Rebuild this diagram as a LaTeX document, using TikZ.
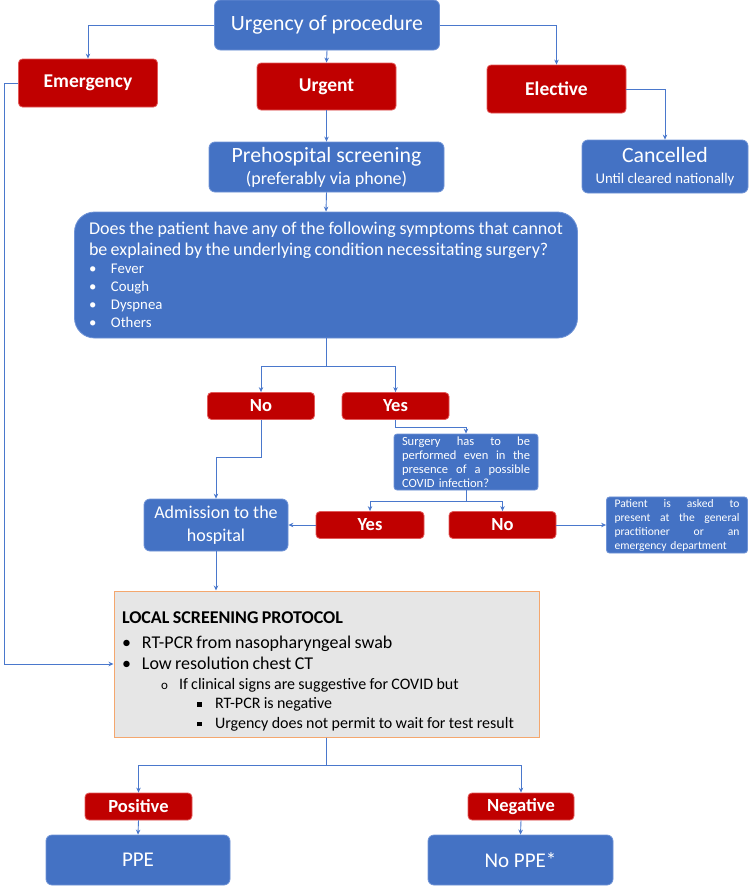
\documentclass[tikz,border=0pt]{standalone}
\usepackage{fontspec}
\setmainfont{Carlito}
\usetikzlibrary{arrows.meta}

\definecolor{boxblue}{HTML}{4472C4}
\definecolor{boxedge}{HTML}{6F93D6}
\definecolor{boxred}{HTML}{C00000}
\definecolor{rededge}{HTML}{E25A5A}
\definecolor{lineblue}{HTML}{4A78CC}
\definecolor{protofill}{HTML}{E6E6E6}
\definecolor{protoedge}{HTML}{F4A76E}

\newcommand{\fsz}[2]{\fontsize{#1}{#2}\selectfont}
\newcommand{\jline}[2]{\makebox[#1][s]{\spaceskip=0pt\relax #2}}
\newcommand{\sqbullet}{\makebox[18pt][l]{\rule[2pt]{4.5pt}{4.5pt}}}

\begin{document}
\begin{tikzpicture}[
    x=1pt, y=-1pt,
    bluebox/.style={draw=boxedge, fill=boxblue, text=white, rounded corners=6pt, line width=0.8pt, align=center, inner sep=2pt},
    redbox/.style={draw=rededge, fill=boxred, text=white, rounded corners=4pt, line width=0.8pt, font=\bfseries\fsz{19.5}{22}},
    protobox/.style={draw=protoedge, fill=protofill, line width=1pt, align=left, text=black},
    link/.style={draw=lineblue, line width=0.9pt, -{Stealth[length=5pt, width=4.5pt]}},
    line/.style={draw=lineblue, line width=0.9pt}
  ]

    \useasboundingbox (0, 0) rectangle (750, 886);

    % Urgency and its three classes
    \node[bluebox, minimum width=225pt, minimum height=50pt, font=\fsz{21.8}{26}] (urgency) at (327, 25) {Urgency of procedure};
    \node[redbox, minimum width=139pt, minimum height=48pt] (emergency) at (88, 83) {Emergency};
    \node[redbox, minimum width=139pt, minimum height=47pt] (urgent) at (326.5, 86.5) {Urgent};
    \node[redbox, minimum width=139pt, minimum height=48pt] (elective) at (556.5, 89) {Elective};

    % Second row
    \node[bluebox, minimum width=235pt, minimum height=50pt, font=\fsz{21.8}{25}] (prehosp) at (326.5, 167) {Prehospital screening\\[-3pt]{\fsz{18}{20}(preferably via phone)}};
    \node[bluebox, minimum width=166pt, minimum height=53pt, font=\fsz{21.8}{25}] (cancelled) at (665, 166.5) {Cancelled\\[-4pt]{\fsz{14.8}{17}Until cleared nationally}};

    % Symptom question
    \node[bluebox, rounded corners=20pt, align=left, text width=474pt, inner xsep=14.5pt, minimum height=126pt] (question) at (326, 275) {%
      {\fsz{18}{21}\jline{474pt}{Does the patient have any of the following symptoms that cannot}\\
      be explained by the underlying condition necessitating surgery?\par}
      {\fsz{14.8}{18}\makebox[22pt][l]{\textbullet}Fever\\
      \makebox[22pt][l]{\textbullet}Cough\\
      \makebox[22pt][l]{\textbullet}Dyspnea\\
      \makebox[22pt][l]{\textbullet}Others\par}};

    % Answers
    \node[redbox, minimum width=107pt, minimum height=27pt, font=\bfseries\fsz{18.5}{21}] (no1) at (261, 406) {No};
    \node[redbox, minimum width=107pt, minimum height=27pt, font=\bfseries\fsz{18.5}{21}] (yes1) at (395.5, 406) {Yes};

    \node[bluebox, rounded corners=3pt, align=left, text width=128pt, inner xsep=8pt, minimum height=56pt, font=\fsz{12.5}{14}] (surgery) at (466, 462) {%
      \jline{128pt}{Surgery has to be}\\
      \jline{128pt}{performed even in the}\\
      \jline{128pt}{presence of a possible}\\
      COVID infection?};

    \node[bluebox, minimum width=144pt, minimum height=52pt, font=\fsz{18}{23}] (admission) at (216, 525) {Admission to the\\hospital};
    \node[redbox, minimum width=108pt, minimum height=27pt, font=\bfseries\fsz{18.5}{21}] (yes2) at (370, 525) {Yes};
    \node[redbox, minimum width=107pt, minimum height=27pt, font=\bfseries\fsz{18.5}{21}] (no2) at (502.5, 525) {No};

    \node[bluebox, rounded corners=3pt, align=left, text width=125pt, inner xsep=8pt, minimum height=56pt, font=\fsz{11.6}{14}] (patient) at (677, 525) {%
      \jline{125pt}{Patient is asked to}\\
      \jline{125pt}{present at the general}\\
      \jline{125pt}{practitioner or an}\\
      emergency department};

    % Local screening protocol
    \node[protobox, text width=409pt, inner xsep=8pt, minimum height=146pt] (local) at (326.5, 664) {%
      {\bfseries\fsz{18}{20}\rule{0pt}{27pt}LOCAL SCREENING PROTOCOL\par}\vspace{4pt}
      {\fsz{18}{21}\makebox[20pt][l]{\textbullet}RT-PCR from nasopharyngeal swab\\
      \makebox[20pt][l]{\textbullet}Low resolution chest CT\par}
      {\fsz{16}{19.5}\hspace*{39pt}\makebox[18pt][l]{\fsz{13}{19}o}If clinical signs are suggestive for COVID but\\
      \hspace*{75pt}\sqbullet RT-PCR is negative\\
      \hspace*{75pt}\sqbullet Urgency does not permit to wait for test result\par}};

    % Results
    \node[redbox, minimum width=107pt, minimum height=27pt, font=\bfseries\fsz{18.5}{21}] (positive) at (138.5, 806.5) {Positive};
    \node[redbox, minimum width=106pt, minimum height=27pt, font=\bfseries\fsz{18.5}{21}] (negative) at (521, 806.5) {Negative};
    \node[bluebox, minimum width=184pt, minimum height=50pt, font=\fsz{21}{25}] (ppe) at (138, 860) {PPE};
    \node[bluebox, minimum width=185pt, minimum height=50pt, font=\fsz{21}{25}] (noppe) at (520.5, 860) {No PPE*};

    % Connectors
    \draw[link] (urgency.west) -| (emergency.north);
    \draw[link] (urgency.south) -- (urgent.north);
    \draw[link] (urgency.east) -| (elective.north);
    \draw[link] (elective.east) -| (cancelled.north);
    \draw[link] (urgent.south) -- (prehosp.north);
    \draw[link] (prehosp.south) -- (question.north);
    \draw[link] (question.south) -- ++(0, 28) -| (no1.north);
    \draw[link] (question.south) -- ++(0, 28) -| (yes1.north);
    \draw[link] (yes1.south) -- ++(0, 8) -| (surgery.north);
    \draw[link] (no1.south) -- ++(0, 38) -| (admission.north);
    \draw[link] (surgery.south) -- ++(0, 11) -| (yes2.north);
    \draw[link] (surgery.south) -- ++(0, 11) -| (no2.north);
    \draw[link] (yes2.west) -- (admission.east);
    \draw[link] (no2.east) -- (patient.west);
    \draw[link] (admission.south) -- (admission.south |- local.north);
    \draw[link] (emergency.west) -- ++(-14, 0) |- (local.west);
    \draw[link] (local.south) -- ++(0, 28) -| (positive.north);
    \draw[link] (local.south) -- ++(0, 28) -| (negative.north);
    \draw[link] (positive.south) -- (ppe.north);
    \draw[link] (negative.south) -- (noppe.north);

  \end{tikzpicture}
\end{document}
